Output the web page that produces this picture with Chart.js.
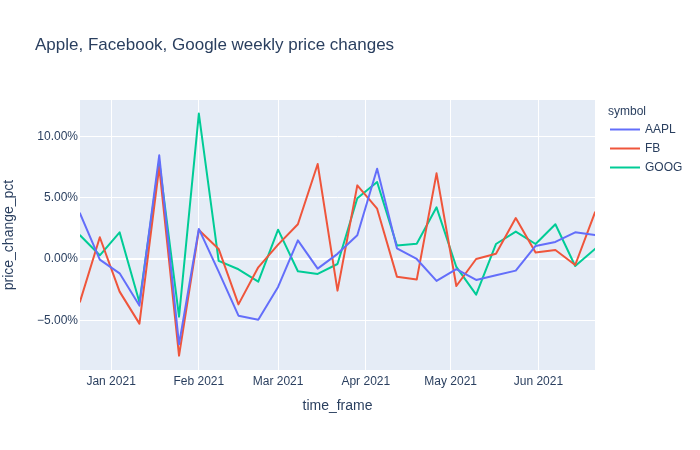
<!DOCTYPE html>
<html>
<head>
<meta charset="utf-8">
<script src="https://cdn.jsdelivr.net/npm/chart.js@4/dist/chart.umd.min.js"></script>
<style>
  html, body { margin: 0; padding: 0; background: #fff; }
  #wrap { width: 700px; height: 450px; position: relative; }
</style>
</head>
<body>
<div id="wrap"><canvas id="c" width="700" height="450"></canvas></div>
<script>
const titleText = "Apple, Facebook, Google weekly price changes";
const xTitle = "time_frame";
const yTitle = "price_change_pct";
const legendTitle = "symbol";

const dates = ["2020-12-21","2020-12-28","2021-01-04","2021-01-11","2021-01-18","2021-01-25",
  "2021-02-01","2021-02-08","2021-02-15","2021-02-22","2021-03-01","2021-03-08","2021-03-15",
  "2021-03-22","2021-03-29","2021-04-05","2021-04-12","2021-04-19","2021-04-26","2021-05-03",
  "2021-05-10","2021-05-17","2021-05-24","2021-05-31","2021-06-07","2021-06-14","2021-06-21"];

const symbols = ["AAPL", "FB", "GOOG"];
const colors = ["#636efa", "#EF553B", "#00cc96"];

const aapl = [3.72, -0.05, -1.17, -3.80, 8.45, -6.96, 2.45, -1.03, -4.62, -4.95, -2.28, 1.52, -0.79,
  0.42, 1.93, 7.36, 0.87, 0.0, -1.79, -0.82, -1.71, -1.33, -0.95, 1.06, 1.39, 2.17, 1.96];
const fb = [-3.48, 1.77, -2.66, -5.27, 7.5, -7.88, 2.36, 0.82, -3.70, -0.68, 1.17, 2.83, 7.74,
  -2.58, 6.0, 4.1, -1.44, -1.68, 6.98, -2.2, 0.0, 0.43, 3.34, 0.52, 0.73, -0.49, 3.80];
const goog = [1.93, 0.30, 2.17, -3.53, 7.93, -4.70, 11.85, -0.16, -0.84, -1.85, 2.39, -1.0, -1.22,
  -0.41, 4.95, 6.28, 1.09, 1.25, 4.21, -0.65, -2.91, 1.22, 2.23, 1.22, 2.83, -0.57, 0.82];

const yTicks = [-5, 0, 5, 10];
const xTickDates = ["2021-01-01","2021-02-01","2021-03-01","2021-04-01","2021-05-01","2021-06-01"];
const xTickLabels = ["Jan 2021","Feb 2021","Mar 2021","Apr 2021","May 2021","Jun 2021"];

const toTs = d => Date.parse(d + "T00:00:00Z");
const series = [aapl, fb, goog];

const FONT = '"Liberation Sans", Arial, sans-serif';
const TXT = "#2a3f5f";

const datasets = symbols.map((s, i) => ({
  label: s,
  data: dates.map((d, j) => ({ x: toTs(d), y: series[i][j] })),
  borderColor: colors[i],
  backgroundColor: colors[i],
  borderWidth: 2,
  borderJoinStyle: "round",
  borderCapStyle: "round",
  pointRadius: 0,
  tension: 0,
  fill: false
}));

const decor = {
  id: "decor",
  beforeDraw(chart) {
    const { ctx, chartArea: a } = chart;
    ctx.save();
    ctx.fillStyle = "#E5ECF6";
    ctx.fillRect(a.left, a.top, a.right - a.left, a.bottom - a.top);
    ctx.restore();
  },
  afterDraw(chart) {
    const { ctx, chartArea: a } = chart;
    ctx.save();
    ctx.fillStyle = TXT;
    // title
    ctx.font = "17px " + FONT;
    ctx.textAlign = "left";
    ctx.textBaseline = "middle";
    ctx.fillText(titleText, 35, 45);
    // x title
    ctx.font = "14px " + FONT;
    ctx.textAlign = "center";
    ctx.fillText(xTitle, (a.left + a.right) / 2, 406);
    // y title
    ctx.save();
    ctx.translate(9, (a.top + a.bottom) / 2);
    ctx.rotate(-Math.PI / 2);
    ctx.fillText(yTitle, 0, 0);
    ctx.restore();
    // legend
    ctx.font = "12px " + FONT;
    ctx.textAlign = "left";
    ctx.fillText(legendTitle, 608, 112);
    chart.data.datasets.forEach((ds, i) => {
      const y = 129.5 + i * 19;
      ctx.strokeStyle = ds.borderColor;
      ctx.lineWidth = 2;
      ctx.beginPath();
      ctx.moveTo(610, y);
      ctx.lineTo(640, y);
      ctx.stroke();
      ctx.fillStyle = TXT;
      ctx.fillText(ds.label, 645, y);
    });
    ctx.restore();
  }
};

new Chart(document.getElementById("c"), {
  type: "line",
  data: { datasets },
  plugins: [decor],
  options: {
    responsive: false,
    animation: false,
    devicePixelRatio: 1,
    layout: { padding: { top: 100, right: 105, left: 0, bottom: 0 } },
    plugins: { legend: { display: false }, title: { display: false }, tooltip: { enabled: false } },
    scales: {
      x: {
        type: "linear",
        min: toTs(dates[0]),
        max: toTs(dates[dates.length - 1]),
        afterBuildTicks: s => { s.ticks = xTickDates.map(d => ({ value: toTs(d) })); },
        afterFit: s => { s.height = 80; },
        grid: { color: "#ffffff", lineWidth: 1, drawTicks: false },
        border: { display: false },
        ticks: {
          autoSkip: false, maxRotation: 0, padding: 4,
          color: TXT, font: { family: FONT, size: 12 },
          callback: (v) => {
            const k = xTickDates.findIndex(d => toTs(d) === v);
            return k >= 0 ? xTickLabels[k] : "";
          }
        }
      },
      y: {
        type: "linear",
        min: -9.05,
        max: 12.96,
        afterBuildTicks: s => { s.ticks = yTicks.map(v => ({ value: v })); },
        afterFit: s => { s.width = 80; },
        grid: {
          color: "#ffffff",
          lineWidth: c => (c.tick && c.tick.value === 0 ? 2 : 1),
          drawTicks: false
        },
        border: { display: false },
        ticks: {
          padding: 2,
          color: TXT, font: { family: FONT, size: 12 },
          callback: v => (v < 0 ? "\u2212" : "") + Math.abs(v).toFixed(2) + "%"
        }
      }
    }
  }
});
</script>
</body>
</html>
